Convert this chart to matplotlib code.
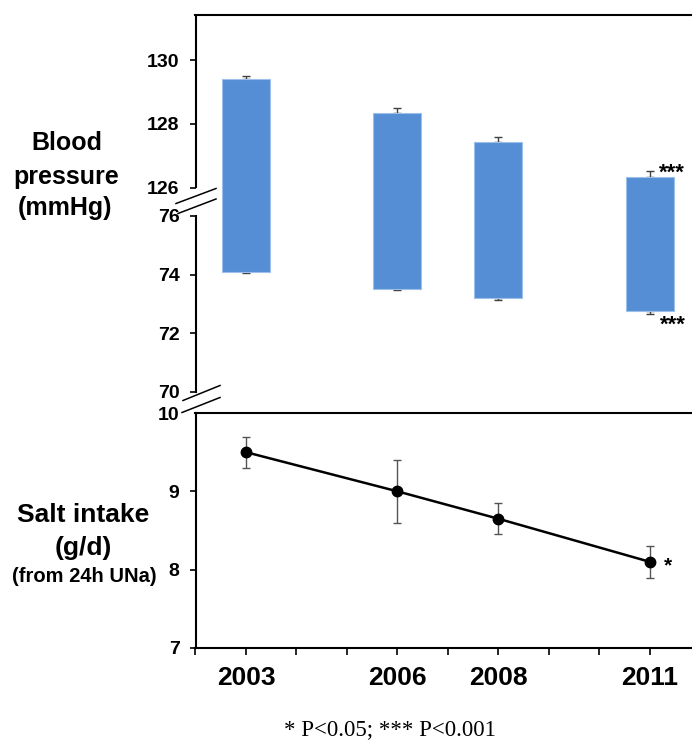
import numpy as np
import matplotlib
matplotlib.use("Agg")
import matplotlib.pyplot as plt
from matplotlib.lines import Line2D

plt.rcParams["font.family"] = ["Liberation Sans", "DejaVu Sans"]
plt.rcParams["font.weight"] = "bold"

# ---- data ----
years = [2003, 2006, 2008, 2011]
year_labels = ["2003", "2006", "2008", "2011"]
systolic = [129.4, 128.35, 127.45, 126.35]
systolic_se = [0.10, 0.15, 0.15, 0.18]
diastolic = [74.1, 73.5, 73.2, 72.75]
diastolic_se = [0.03, 0.04, 0.05, 0.08]
salt = [9.5, 9.0, 8.65, 8.1]
salt_err = [0.2, 0.4, 0.2, 0.2]
bp_ticks = [70, 72, 74, 76, 126, 128, 130]
salt_ticks = [7, 8, 9, 10]

W, H = 692, 742
fig = plt.figure(figsize=(W / 100, H / 100), dpi=100)


def fx(px):
    return px / W


def fy(py):
    return 1 - py / H


# broken blood-pressure axis: 70-76 and 126+ share one axes
GAP = 28 / 29.4
GAP_K = GAP / 50.0
TOP_K = 32 / 29.4


def bp_forward(v):
    v = np.asarray(v, dtype=float)
    return np.where(v <= 76, v,
                    np.where(v < 126, 76 + (v - 76) * GAP_K,
                             76 + GAP + (v - 126) * TOP_K))


def bp_inverse(u):
    u = np.asarray(u, dtype=float)
    return np.where(u <= 76, u,
                    np.where(u < 76 + GAP, 76 + (u - 76) / GAP_K,
                             126 + (u - 76 - GAP) / TOP_K))


left_px = 195.5
xlim = (2002, 2002 + (W - left_px) / 50.48)
ax1 = fig.add_axes([fx(left_px), fy(392), 1 - fx(left_px), (392 - 15) / H])
ax2 = fig.add_axes([fx(left_px), fy(648), 1 - fx(left_px), (648 - 413) / H])

spine_lw = 1.5
bar_color = "#558ED5"

# ---- blood pressure bars ----
ax1.set_yscale("function", functions=(bp_forward, bp_inverse))
ax1.errorbar(years, systolic, yerr=[np.zeros(4), systolic_se], fmt="none",
             ecolor="#404040", elinewidth=1, capsize=2.6, capthick=1, zorder=1)
ax1.errorbar(years, diastolic, yerr=[diastolic_se, np.zeros(4)], fmt="none",
             ecolor="#404040", elinewidth=1, capsize=2.6, capthick=1, zorder=1)
ax1.bar(years, np.subtract(systolic, diastolic), bottom=diastolic, width=0.95,
        color=bar_color, edgecolor="#9CC0EA", linewidth=0.8, zorder=2)
ax1.set_xlim(*xlim)
ax1.set_ylim(70, 131.41)
ax1.set_yticks(bp_ticks)
ax1.set_yticklabels([str(t) for t in bp_ticks])
ax1.set_xticks([])
ax1.tick_params(axis="y", direction="out", length=4.5, width=1.2, pad=7,
                labelsize=14)
for s in ("right", "bottom"):
    ax1.spines[s].set_visible(False)
ax1.spines["top"].set_linewidth(spine_lw)
ax1.spines["left"].set_linewidth(spine_lw)
ax1.spines["left"].set_bounds(70, 76)
ax1.plot([0, 0], [126, 131.41], transform=ax1.get_yaxis_transform(),
         color="black", lw=spine_lw, clip_on=False, solid_capstyle="butt")

ax1.annotate("***", xy=(years[3] + 0.475, systolic[3]), xytext=(-1, -1.5),
             textcoords="offset points", ha="center", va="baseline",
             fontsize=16, fontweight="bold")
ax1.annotate("***", xy=(years[3] + 0.475, diastolic[3]), xytext=(-0.5, -13.8),
             textcoords="offset points", ha="center", va="baseline",
             fontsize=16, fontweight="bold")

# ---- salt intake line ----
ax2.errorbar(years, salt, yerr=salt_err, fmt="o-", color="black", lw=1.8,
             markersize=7.5, ecolor="#555555", elinewidth=1, capsize=3.2,
             capthick=1)
ax2.set_xlim(*xlim)
ax2.set_ylim(7, 10)
ax2.set_yticks(salt_ticks)
ax2.set_yticklabels([str(t) for t in salt_ticks])
all_years = list(range(2002, 2012))
ax2.set_xticks(all_years)
ax2.set_xticklabels([str(y) if y in years else "" for y in all_years])
ax2.tick_params(axis="y", direction="out", length=4.5, width=1.2, pad=7,
                labelsize=14)
ax2.tick_params(axis="x", direction="out", length=5, width=1.2, pad=8,
                labelsize=19)
ax2.yaxis.get_major_ticks()[-1].tick1line.set_visible(False)
ax2.spines["right"].set_visible(False)
for s in ("left", "top", "bottom"):
    ax2.spines[s].set_linewidth(spine_lw)
ax2.annotate("*", xy=(years[3], salt[3]), xytext=(13, -6.6),
             textcoords="offset points", ha="center", va="baseline",
             fontsize=15, fontweight="bold")

# ---- axis break marks ----
for (x1, y1, x2, y2) in [(176, 203.5, 216, 188.5), (178, 213.5, 216, 199),
                         (183, 400.5, 220, 385.5), (182, 412.5, 220, 397.5)]:
    fig.add_artist(Line2D([fx(x1), fx(x2)], [fy(y1), fy(y2)],
                          transform=fig.transFigure, color="black", lw=1.1))

# ---- side titles ----
for txt, x, y, size in [("Blood", 66.5, 150.5, 18), ("pressure", 66, 184, 18),
                        ("(mmHg)", 65, 215, 18),
                        ("Salt intake", 83.5, 521.5, 19), ("(g/d)", 83, 555, 19),
                        ("(from 24h UNa)", 84, 581.5, 14.5)]:
    fig.text(fx(x), fy(y), txt, ha="center", va="baseline", fontsize=size,
             fontweight="bold")

fig.text(fx(390), fy(735), "* P<0.05; *** P<0.001", ha="center",
         va="baseline", fontsize=16.5, fontweight="normal",
         family=["Liberation Serif", "DejaVu Serif"])

fig.savefig("out.png", dpi=100)
